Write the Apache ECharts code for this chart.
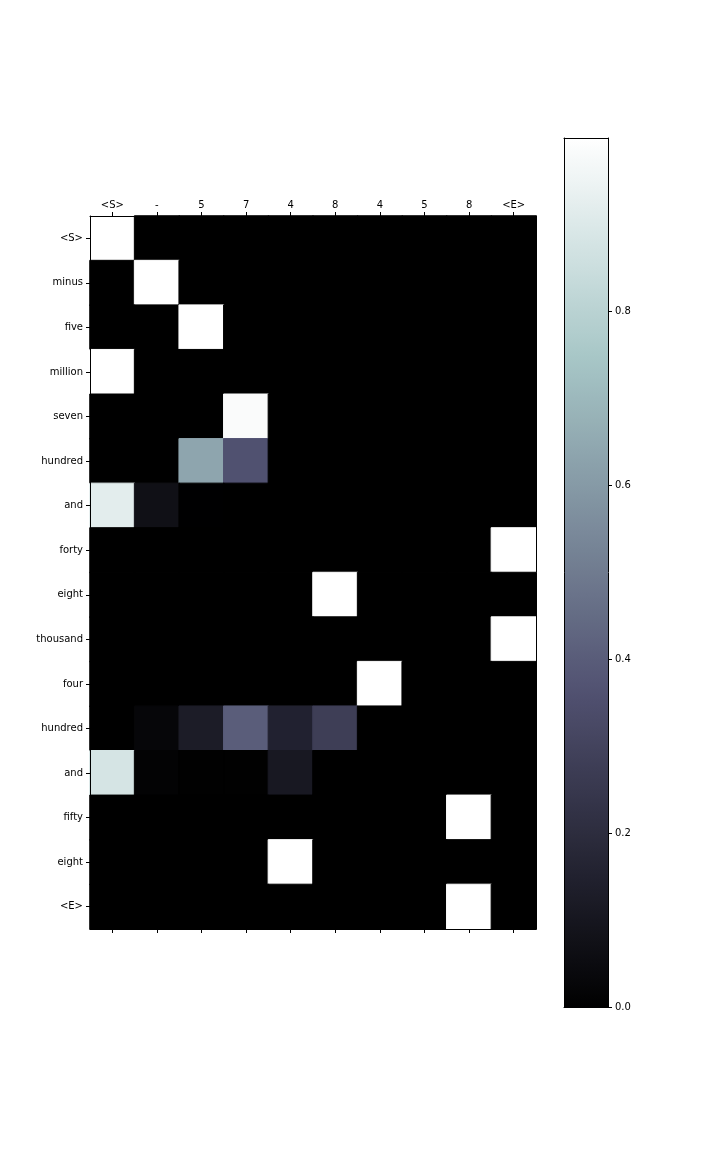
<!DOCTYPE html>
<html>
<head>
<meta charset="utf-8">
<script src="https://cdn.jsdelivr.net/npm/echarts@6/dist/echarts.min.js"></script>
<style>
  html, body { margin: 0; background: #fff; }
  #chart { width: 720px; height: 1152px; }
</style>
</head>
<body>
<div id="chart"></div>
<script>
// output tokens (columns, top) and input words (rows, left)
var xLabels = ['<S>', '-', '5', '7', '4', '8', '4', '5', '8', '<E>'];
var yLabels = ['<S>', 'minus', 'five', 'million', 'seven', 'hundred', 'and', 'forty',
               'eight', 'thousand', 'four', 'hundred', 'and', 'fifty', 'eight', '<E>'];

// attention weights, one row per input word
var attention = [
  [0.999, 0,     0,     0,     0,     0,     0,     0,     0,     0    ],
  [0,     0.999, 0,     0,     0,     0,     0,     0,     0,     0    ],
  [0,     0,     0.999, 0,     0,     0,     0,     0,     0,     0    ],
  [0.999, 0,     0,     0,     0,     0,     0,     0,     0,     0    ],
  [0,     0,     0,     0.985, 0,     0,     0,     0,     0,     0    ],
  [0,     0,     0.636, 0.36,  0,     0,     0,     0,     0,     0    ],
  [0.92,  0.07,  0.002, 0,     0,     0,     0,     0,     0,     0    ],
  [0,     0,     0,     0,     0,     0,     0,     0,     0,     0.999],
  [0,     0,     0,     0,     0,     0.999, 0,     0,     0,     0    ],
  [0,     0,     0,     0,     0,     0,     0,     0,     0,     0.999],
  [0,     0,     0,     0,     0,     0,     0.999, 0,     0,     0    ],
  [0,     0.027, 0.126, 0.403, 0.152, 0.278, 0,     0,     0,     0    ],
  [0.88,  0.012, 0.003, 0.003, 0.108, 0,     0,     0,     0,     0    ],
  [0,     0,     0,     0,     0,     0,     0,     0,     0.999, 0    ],
  [0,     0,     0,     0,     0.999, 0,     0,     0,     0,     0    ],
  [0,     0,     0,     0,     0,     0,     0,     0,     0.999, 0    ]
];

// colorbar
var cbMax = 0.9997;
var cbTicks = [0, 0.2, 0.4, 0.6, 0.8];

// matplotlib "bone" colormap, piecewise linear
function bone(t) {
  function seg(pts) {
    for (var i = 1; i < pts.length; i++) {
      if (t <= pts[i][0]) {
        var a = pts[i - 1], b = pts[i];
        return a[1] + (t - a[0]) / (b[0] - a[0]) * (b[1] - a[1]);
      }
    }
    return pts[pts.length - 1][1];
  }
  var r = seg([[0, 0], [0.746032, 0.652778], [1, 1]]);
  var g = seg([[0, 0], [0.365079, 0.319444], [0.746032, 0.777778], [1, 1]]);
  var b = seg([[0, 0], [0.365079, 0.444444], [1, 1]]);
  return 'rgb(' + Math.round(r * 255) + ',' + Math.round(g * 255) + ',' + Math.round(b * 255) + ')';
}

var nStops = 41;
var boneColors = [];
var boneGradient = [];
for (var i = 0; i < nStops; i++) {
  var t = i / (nStops - 1);
  boneColors.push(bone(t));
  boneGradient.push({ offset: t, color: bone(t) });
}

// heatmap data [x, y, value]; border in the cell colour hides seams between cells
var cells = [];
attention.forEach(function (row, yi) {
  row.forEach(function (v, xi) {
    cells.push({ value: [xi, yi, v],
                 itemStyle: { borderColor: bone(v / cbMax), borderWidth: 1 } });
  });
});

var font = { fontFamily: 'DejaVu Sans', fontSize: 10, color: '#000' };
var line = { show: true, onZero: false, lineStyle: { color: '#000', width: 1 } };
var tick = { show: true, length: 4, lineStyle: { color: '#000', width: 1 } };

var option = {
  backgroundColor: '#fff',
  animation: false,
  grid: [
    { left: 90, top: 216, width: 446, height: 713 },
    { left: 564, top: 138, width: 44, height: 869 }
  ],
  xAxis: [
    { type: 'category', gridIndex: 0, position: 'top', data: xLabels, z: 10,
      axisLine: line, axisTick: Object.assign({ alignWithLabel: true }, tick),
      axisLabel: Object.assign({ margin: 6, interval: 0 }, font), splitLine: { show: false } },
    { type: 'category', gridIndex: 0, position: 'bottom', data: xLabels, z: 10,
      axisLine: line, axisTick: Object.assign({ alignWithLabel: true }, tick),
      axisLabel: { show: false }, splitLine: { show: false } },
    { type: 'category', gridIndex: 1, position: 'bottom', data: ['cb'], z: 10,
      axisLine: line, axisTick: { show: false }, axisLabel: { show: false } },
    { type: 'category', gridIndex: 1, position: 'top', data: ['cb'], z: 10,
      axisLine: line, axisTick: { show: false }, axisLabel: { show: false } }
  ],
  yAxis: [
    { type: 'category', gridIndex: 0, position: 'left', inverse: true, data: yLabels, z: 10,
      axisLine: line, axisTick: Object.assign({ alignWithLabel: true }, tick),
      axisLabel: Object.assign({ margin: 7, interval: 0, padding: [2, 0, 0, 0] }, font),
      splitLine: { show: false } },
    { type: 'category', gridIndex: 0, position: 'right', inverse: true, data: yLabels, z: 10,
      axisLine: line, axisTick: { show: false }, axisLabel: { show: false } },
    { type: 'value', gridIndex: 1, position: 'right', min: 0, max: cbMax, z: 10,
      axisLine: line,
      axisTick: Object.assign({ customValues: cbTicks }, tick),
      axisLabel: Object.assign({ margin: 7, customValues: cbTicks, padding: [2, 0, 0, 0],
        formatter: function (v) { return v.toFixed(1); } }, font),
      splitLine: { show: false } },
    { type: 'value', gridIndex: 1, position: 'left', min: 0, max: cbMax, z: 10,
      axisLine: line, axisTick: { show: false }, axisLabel: { show: false },
      splitLine: { show: false } }
  ],
  visualMap: {
    type: 'continuous',
    show: false,
    seriesIndex: 0,
    dimension: 2,
    min: 0,
    max: cbMax,
    inRange: { color: boneColors }
  },
  series: [
    {
      type: 'heatmap',
      xAxisIndex: 0,
      yAxisIndex: 0,
      data: cells,
      emphasis: { disabled: true }
    },
    {
      type: 'bar',
      xAxisIndex: 2,
      yAxisIndex: 2,
      data: [cbMax],
      barWidth: '100%',
      itemStyle: { color: new echarts.graphic.LinearGradient(0, 1, 0, 0, boneGradient) },
      silent: true
    }
  ]
};

var myChart = echarts.init(document.getElementById('chart'));
myChart.setOption(option);
</script>
</body>
</html>
